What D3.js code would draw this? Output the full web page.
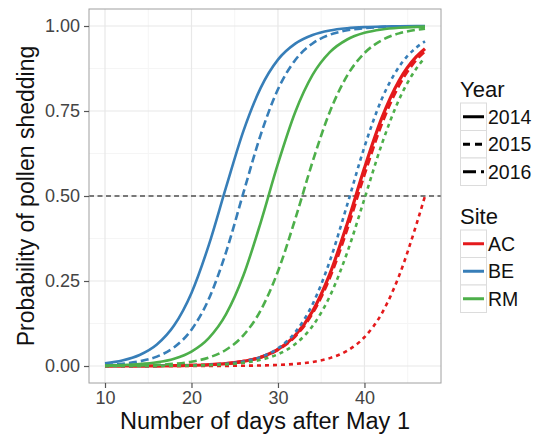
<!DOCTYPE html>
<html><head><meta charset="utf-8">
<script src="https://cdn.jsdelivr.net/npm/d3@7"></script>
<style>body{margin:0;background:#fff}svg{display:block;font-family:"Liberation Sans",Arial,Helvetica,sans-serif}</style>
</head><body><svg id="c" width="536" height="441"></svg>
<script>
const days = [10,12,14,16,18,20,22,24,26,28,30,32,34,36,38,40,42,44,46,47];
const be2014 = [0.0082,0.0164,0.0325,0.0633,0.1197,0.215,0.3555,0.526,0.691,0.818,0.901,0.948,0.9735,0.9867,0.9933,0.9967,0.9984,0.9992,0.9996,0.9997];
const be2016 = [0.0033,0.0067,0.0136,0.0276,0.055,0.1068,0.197,0.335,0.509,0.68,0.814,0.9,0.9487,0.9743,0.9873,0.9938,0.997,0.9985,0.9993,0.9995];
const rm2014 = [0.0013,0.0027,0.0054,0.0108,0.0216,0.0425,0.082,0.1525,0.266,0.422,0.595,0.747,0.856,0.923,0.9603,0.9799,0.9899,0.995,0.9975,0.9982];
const rm2016 = [0.0004,0.0009,0.0017,0.0033,0.0065,0.0127,0.0248,0.0478,0.0902,0.1636,0.2785,0.4324,0.6006,0.748,0.854,0.9204,0.958,0.9783,0.9889,0.9921];
const be2015 = [0.0001,0.0001,0.0002,0.0004,0.0008,0.0017,0.0033,0.0067,0.0133,0.0265,0.0519,0.0993,0.1817,0.309,0.4738,0.6445,0.785,0.88,0.9367,0.9546];
const ac2014 = [0.0001,0.0001,0.0003,0.0005,0.001,0.0019,0.0037,0.007,0.0135,0.0258,0.0488,0.0903,0.161,0.271,0.418,0.582,0.729,0.839,0.9097,0.9333];
const ac2016 = [0.0001,0.0002,0.0003,0.0005,0.001,0.002,0.0037,0.0071,0.0135,0.0256,0.0479,0.0879,0.1558,0.2611,0.4037,0.5646,0.713,0.8264,0.9011,0.9265];
const rm2015 = [0.0001,0.0001,0.0002,0.0004,0.0007,0.0013,0.0025,0.0049,0.0094,0.0181,0.0345,0.0646,0.1178,0.2054,0.3334,0.4918,0.652,0.7836,0.875,0.907];
const ac2015 = [0,0,0,0,0.0001,0.0001,0.0002,0.0004,0.0008,0.0016,0.0031,0.0061,0.0119,0.0232,0.0448,0.0847,0.1545,0.265,0.4158,0.5];

const sites = ["AC","BE","RM"];
const years = ["2014","2015","2016"];
const xTicks = [10,20,30,40];
const yTicks = [0,0.25,0.5,0.75,1];
const yTickLabels = ["0.00","0.25","0.50","0.75","1.00"];
const threshold = 0.5;

const series = [
  {site:"AC", year:"2014", values:ac2014},
  {site:"AC", year:"2016", values:ac2016},
  {site:"AC", year:"2015", values:ac2015},
  {site:"BE", year:"2014", values:be2014},
  {site:"BE", year:"2016", values:be2016},
  {site:"BE", year:"2015", values:be2015},
  {site:"RM", year:"2014", values:rm2014},
  {site:"RM", year:"2016", values:rm2016},
  {site:"RM", year:"2015", values:rm2015}
];

const color = d3.scaleOrdinal().domain(sites).range(["#E41A1C","#377EB8","#4DAF4A"]);
const dash = d3.scaleOrdinal().domain(years).range(["none","4,4","8,4"]);

const svg = d3.select("#c");
const L = 89, R = 441, T = 9, B = 383;
const x = d3.scaleLinear().domain([8.15, 48.85]).range([L, R]);
const y = d3.scaleLinear().domain([-0.05, 1.05]).range([B, T]);

// panel background + grid
svg.append("rect").attr("x",L).attr("y",T).attr("width",R-L).attr("height",B-T).attr("fill","#fff");
const minorX = [15,25,35,45], minorY = [0.125,0.375,0.625,0.875];
svg.append("g").selectAll("line").data(minorX).join("line")
  .attr("x1",d=>x(d)).attr("x2",d=>x(d)).attr("y1",T).attr("y2",B).attr("stroke","#f5f5f5").attr("stroke-width",1);
svg.append("g").selectAll("line").data(minorY).join("line")
  .attr("y1",d=>y(d)).attr("y2",d=>y(d)).attr("x1",L).attr("x2",R).attr("stroke","#f5f5f5").attr("stroke-width",1);
svg.append("g").selectAll("line").data(xTicks).join("line")
  .attr("x1",d=>x(d)).attr("x2",d=>x(d)).attr("y1",T).attr("y2",B).attr("stroke","#e8e8e8").attr("stroke-width",1.2);
svg.append("g").selectAll("line").data(yTicks).join("line")
  .attr("y1",d=>y(d)).attr("y2",d=>y(d)).attr("x1",L).attr("x2",R).attr("stroke","#e8e8e8").attr("stroke-width",1.2);

// threshold line
svg.append("line").attr("x1",L).attr("x2",R).attr("y1",y(threshold)).attr("y2",y(threshold))
  .attr("stroke","#505050").attr("stroke-width",1.6).attr("stroke-dasharray","5,3.5");

// curves
const line = d3.line().x((d,i)=>x(days[i])).y(d=>y(d)).curve(d3.curveMonotoneX);
svg.append("g").selectAll("path").data(series).join("path")
  .attr("d",d=>line(d.values)).attr("fill","none")
  .attr("stroke",d=>color(d.site))
  .attr("stroke-width",d=>(d.site==="AC" && d.year!=="2015") ? 3.2 : 2.6)
  .attr("stroke-dasharray",d=>dash(d.year));

// panel border
svg.append("rect").attr("x",L).attr("y",T).attr("width",R-L).attr("height",B-T)
  .attr("fill","none").attr("stroke","#a0a0a0").attr("stroke-width",1);

// axes
const xAxis = svg.append("g").attr("transform",`translate(0,${B})`)
  .call(d3.axisBottom(x).tickValues(xTicks).tickSize(5).tickPadding(3).tickFormat(d3.format("d")));
const yAxis = svg.append("g").attr("transform",`translate(${L},0)`)
  .call(d3.axisLeft(y).tickValues(yTicks).tickSize(5).tickPadding(4).tickFormat((d,i)=>yTickLabels[i]));
[xAxis,yAxis].forEach(g=>{
  g.select(".domain").remove();
  g.selectAll(".tick line").attr("stroke","#555").attr("stroke-width",1.2);
  g.selectAll(".tick text").attr("fill","#444").style("font-size","18px")
    .style("font-family",'"Liberation Sans",Arial,sans-serif');
});

// axis titles
svg.append("text").attr("x",(L+R)/2).attr("y",429).attr("text-anchor","middle")
  .style("font-size","23.5px").attr("fill","#111").text("Number of days after May 1");
svg.append("text").attr("transform",`translate(34,${(T+B)/2}) rotate(-90)`).attr("text-anchor","middle")
  .style("font-size","23px").attr("fill","#111").text("Probability of pollen shedding");

// legends
function legend(title, items, top, strokeFn, dashFn){
  const g = svg.append("g");
  g.append("text").attr("x",460).attr("y",top).style("font-size","22px").attr("fill","#111").text(title);
  const kh = 27.5, k0 = top + 6;
  items.forEach((it,i)=>{
    const ky = k0 + i*kh;
    g.append("rect").attr("x",460.5).attr("y",ky).attr("width",26).attr("height",kh)
      .attr("fill","#fff").attr("stroke","#dcdcdc").attr("stroke-width",1);
    g.append("line").attr("x1",463).attr("x2",484).attr("y1",ky+kh/2).attr("y2",ky+kh/2)
      .attr("stroke",strokeFn(it)).attr("stroke-width",3).attr("stroke-dasharray",dashFn(it));
    g.append("text").attr("x",488).attr("y",ky+kh/2+7).style("font-size","19.5px").attr("fill","#111").text(it);
  });
}
legend("Year", years, 97, ()=> "#000", d=>d==="2016" ? "13,5" : (d==="2015" ? "7,5" : "none"));
legend("Site", sites, 224, d=>color(d), ()=> "none");
</script></body></html>
